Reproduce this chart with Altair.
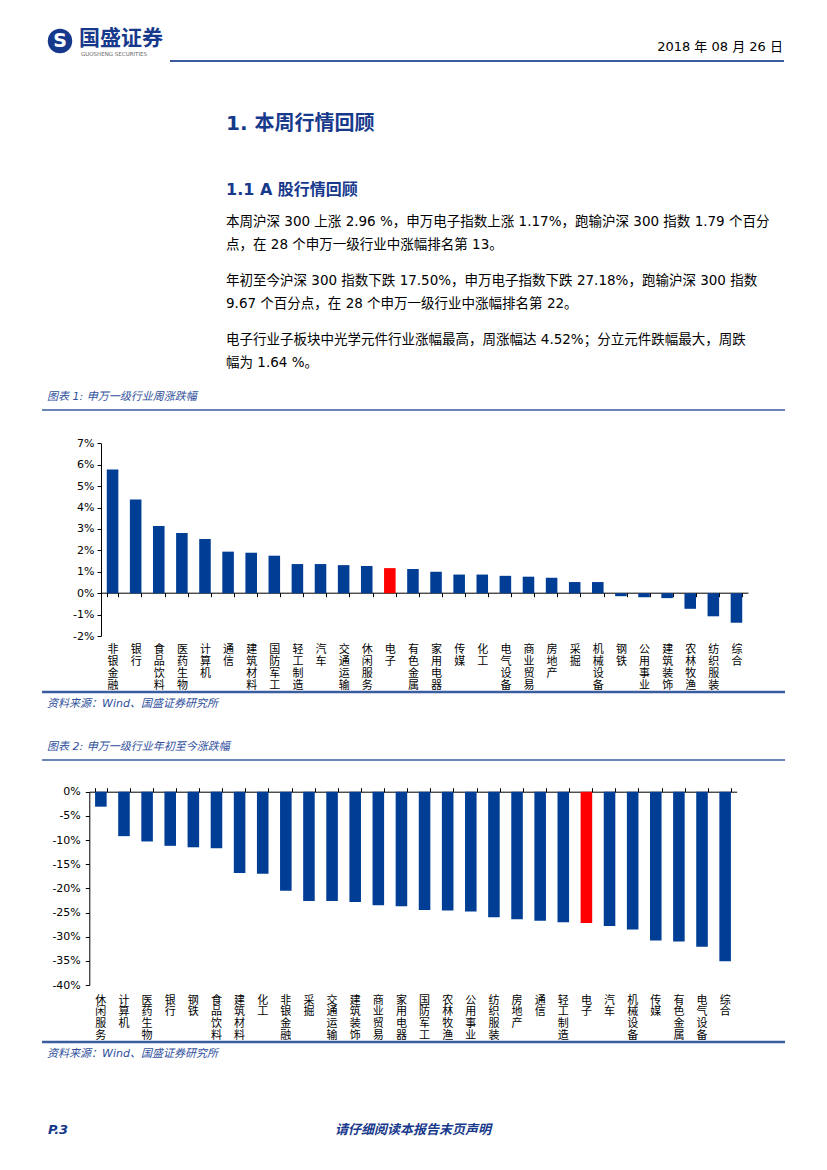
import altair as alt
import pandas as pd

# ---------------- data ----------------
cats1 = ["非银金融", "银行", "食品饮料", "医药生物", "计算机", "通信", "建筑材料", "国防军工",
         "轻工制造", "汽车", "交通运输", "休闲服务", "电子", "有色金属", "家用电器", "传媒",
         "化工", "电气设备", "商业贸易", "房地产", "采掘", "机械设备", "钢铁", "公用事业",
         "建筑装饰", "农林牧渔", "纺织服装", "综合"]
vals1 = [5.78, 4.37, 3.14, 2.81, 2.53, 1.94, 1.89, 1.75, 1.36, 1.36, 1.31, 1.27, 1.17, 1.13,
         1.00, 0.87, 0.87, 0.81, 0.77, 0.72, 0.52, 0.52, -0.14, -0.19, -0.23, -0.73, -1.08, -1.38]

cats2 = ["休闲服务", "计算机", "医药生物", "银行", "钢铁", "食品饮料", "建筑材料", "化工",
         "非银金融", "采掘", "交通运输", "建筑装饰", "商业贸易", "家用电器", "国防军工", "农林牧渔",
         "公用事业", "纺织服装", "房地产", "通信", "轻工制造", "电子", "汽车", "机械设备",
         "传媒", "有色金属", "电气设备", "综合"]
vals2 = [-3.1, -9.2, -10.3, -11.2, -11.5, -11.7, -16.8, -17.0, -20.5, -22.6, -22.6, -22.8,
         -23.5, -23.7, -24.5, -24.6, -24.8, -26.0, -26.4, -26.7, -27.0, -27.18, -27.8, -28.5,
         -30.8, -31.0, -32.1, -35.1]

ticks1 = [-2, -1, 0, 1, 2, 3, 4, 5, 6, 7]
ticks2 = [-40, -35, -30, -25, -20, -15, -10, -5, 0]
highlight = "电子"

brand = "国盛证券"
brand_en = "GUOSHENG SECURITIES"
date_text = "2018 年 08 月 26 日"
h1 = "1. 本周行情回顾"
h2 = "1.1 A 股行情回顾"
para = [
    "本周沪深 300 上涨 2.96 %，申万电子指数上涨 1.17%，跑输沪深 300 指数 1.79 个百分",
    "点，在 28 个申万一级行业中涨幅排名第 13。",
    "年初至今沪深 300 指数下跌 17.50%，申万电子指数下跌 27.18%，跑输沪深 300 指数",
    "9.67 个百分点，在 28 个申万一级行业中涨幅排名第 22。",
    "电子行业子板块中光学元件行业涨幅最高，周涨幅达 4.52%；分立元件跌幅最大，周跌",
    "幅为 1.64 %。",
]
cap1 = "图表 1:  申万一级行业周涨跌幅"
cap2 = "图表 2:  申万一级行业年初至今涨跌幅"
source = "资料来源：Wind、国盛证券研究所"
page_no = "P.3"
footer = "请仔细阅读本报告末页声明"

# ---------------- styles ----------------
W, H = 811, 1154
M = 8  # page margin
BLUE = "#003E96"
RED = "#FF0000"
NAVY = "#17398C"
CAPBLUE = "#2F4F9C"
LINEBLUE = "#3A5D9F"
CJK = "Noto Sans CJK SC"
BODY = "DejaVu Sans, Noto Sans CJK SC"
TICKF = "DejaVu Sans"

one = pd.DataFrame({"k": [0]})


def text(s, x, y, size, color="#000000", weight="normal", style="normal",
         align="left", font=BODY, baseline="middle"):
    return alt.Chart(one).mark_text(
        align=align, baseline=baseline, fontSize=size, fontWeight=weight,
        fontStyle=style, font=font, color=color
    ).encode(x=alt.value(x - M), y=alt.value(y - M), text=alt.value(s))


def hline(x1, x2, y, color, w):
    return alt.Chart(one).mark_rule(color=color, strokeWidth=w).encode(
        x=alt.value(x1 - M), x2=alt.value(x2 - M), y=alt.value(y - M))


df1 = pd.DataFrame({"cat": cats1, "v": vals1})
df1["hl"] = (df1["cat"] == highlight).astype(int)
df2 = pd.DataFrame({"cat": cats2, "v": vals2})
df2["hl"] = (df2["cat"] == highlight).astype(int)

color = alt.Color("hl:N", scale=alt.Scale(domain=[0, 1], range=[BLUE, RED]), legend=None)

# ---------- chart 1 geometry (page px) ----------
c1_x0, c1_x1 = 101, 748
c1_ytop, c1_ybot, c1_zero = 443.3, 636.0, 592.7
# ---------- chart 2 geometry ----------
c2_x0, c2_x1 = 89.3, 736.7
c2_ytop, c2_ybot = 791.7, 985.0

label_axis = dict(title=None, grid=False, labelAngle=0, labelBaseline="top",
                  labelExpr="split(datum.label, '')", labelLineHeight=11.8,
                  labelFont=CJK, labelFontSize=11, labelColor="#000000",
                  labelOverlap=False)

bars1 = alt.Chart(df1).mark_bar().encode(
    x=alt.X("cat:N", sort=cats1,
            scale=alt.Scale(domain=cats1, range=[c1_x0 - M, c1_x1 - M],
                            paddingInner=0.5, paddingOuter=0.25),
            axis=alt.Axis(orient="bottom", offset=(c1_zero - M) - H,
                          domain=True, domainColor="#000000", domainWidth=1,
                          ticks=True, tickBand="extent", tickSize=4,
                          tickColor="#000000", labelPadding=47, **label_axis)),
    y=alt.Y("v:Q",
            scale=alt.Scale(domain=[-2, 7], range=[c1_ybot - M, c1_ytop - M],
                            nice=False, zero=False),
            axis=alt.Axis(orient="left", offset=-(c1_x0 - M), values=ticks1,
                          labelExpr="datum.value + '%'", title=None, grid=False,
                          tickSize=4, tickColor="#000000", domainColor="#000000",
                          labelFont=TICKF, labelFontSize=11, labelColor="#000000",
                          labelPadding=3)),
    y2=alt.datum(0),
    color=color,
)

bars2 = alt.Chart(df2).mark_bar().encode(
    x=alt.X("cat:N", sort=cats2,
            scale=alt.Scale(domain=cats2, range=[c2_x0 - M, c2_x1 - M],
                            paddingInner=0.5, paddingOuter=0.25),
            axis=alt.Axis(orient="bottom", offset=(c2_ybot - M) - H,
                          domain=False, ticks=False, labelPadding=9, **label_axis)),
    y=alt.Y("v:Q",
            scale=alt.Scale(domain=[-40, 0], range=[c2_ybot - M, c2_ytop - M],
                            nice=False, zero=False),
            axis=alt.Axis(orient="left", offset=-(c2_x0 - M), values=ticks2,
                          labelExpr="datum.value + '%'", title=None, grid=False,
                          tickSize=4, tickColor="#000000", domainColor="#000000",
                          labelFont=TICKF, labelFontSize=11, labelColor="#000000",
                          labelPadding=5)),
    y2=alt.datum(0),
    color=color,
)

ticks2_layer = alt.Chart(df2).mark_rule(strokeOpacity=0).encode(
    x=alt.X("cat:N", sort=cats2,
            scale=alt.Scale(domain=cats2, range=[c2_x0 - M, c2_x1 - M],
                            paddingInner=0.5, paddingOuter=0.25),
            axis=alt.Axis(orient="top", offset=-(c2_ytop - M), title=None,
                          labels=False, domain=True, domainColor="#000000",
                          ticks=True, tickBand="extent", tickSize=4,
                          tickColor="#000000", grid=False)),
)

# ---------- page decorations ----------
logo = alt.Chart(one).mark_point(shape="circle", filled=True, color=NAVY, opacity=1).encode(
    x=alt.value(60 - M), y=alt.value(41 - M), size=alt.value(600))
logo_s = text("S", 60, 41, 19, color="#FFFFFF", weight="bold", align="center", font="DejaVu Sans")

layers = [
    logo, logo_s,
    text(brand, 79, 39, 21, color=NAVY, weight="bold", font=CJK),
    text(brand_en, 81, 54, 5.5, color="#666666", font="DejaVu Sans"),
    text(date_text, 783, 47, 13, align="right"),
    hline(170, 784, 61, LINEBLUE, 2),
    text(h1, 226, 124, 20, color=NAVY, weight="bold"),
    text(h2, 226, 190, 16, color=NAVY, weight="bold"),
]
para_y = [222, 245, 281, 304, 340, 363]
for s, yy in zip(para, para_y):
    layers.append(text(s, 226, yy, 13.5))

layers += [
    text(cap1, 47, 397, 11, color=CAPBLUE, style="italic"),
    hline(42, 785, 410, LINEBLUE, 1.5),
    hline(42, 785, 692, LINEBLUE, 2.5),
    text(source, 47, 704, 11, color=CAPBLUE, style="italic"),
    text(cap2, 47, 747, 11, color=CAPBLUE, style="italic"),
    hline(42, 785, 760, LINEBLUE, 1.5),
    hline(42, 785, 1042, LINEBLUE, 2.5),
    text(source, 47, 1054, 11, color=CAPBLUE, style="italic"),
    text(page_no, 48, 1130, 13, color=NAVY, weight="bold", style="italic"),
    text(footer, 413, 1130, 13, color=NAVY, weight="bold", style="italic", align="center", font=CJK),
    bars1, bars2, ticks2_layer,
]

chart = alt.layer(*layers).resolve_scale(
    x="independent", y="independent"
).resolve_axis(
    x="independent", y="independent"
).properties(
    width=W, height=H, padding=0,
    autosize=alt.AutoSizeParams(type="none"),
).configure_view(stroke=None)

chart.save("out.html", embed_options={"renderer": "svg", "actions": False})
